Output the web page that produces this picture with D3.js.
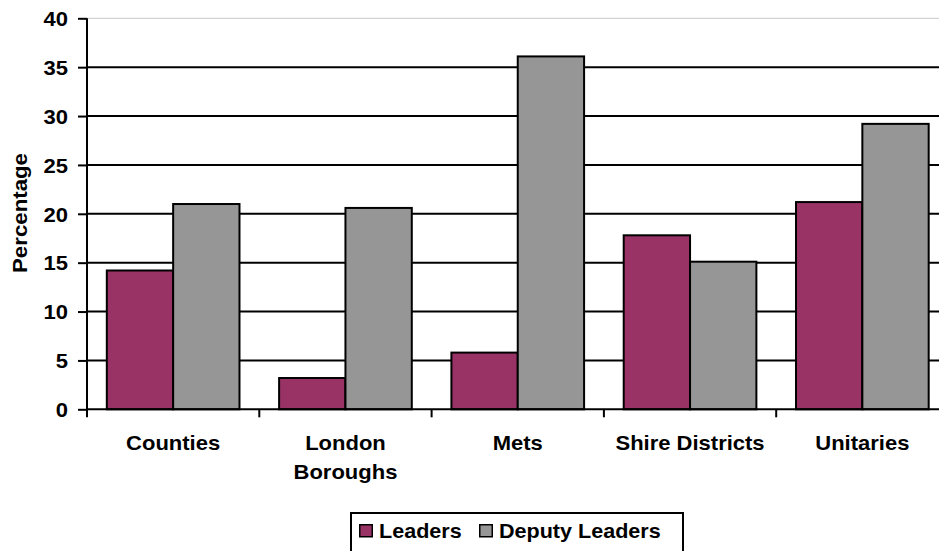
<!DOCTYPE html>
<html>
<head>
<meta charset="utf-8">
<script src="https://cdn.jsdelivr.net/npm/d3@7"></script>
<style>
  html, body { margin: 0; padding: 0; background: #fff; }
  svg { display: block; }
  text { font-family: "Liberation Sans", Arial, sans-serif; font-weight: bold; fill: #000; }
</style>
</head>
<body>
<script>
// Share of leaders and deputy leaders by type of authority (%)
const categories = ["Counties", "London Boroughs", "Mets", "Shire Districts", "Unitaries"];
const categoryLines = [["Counties"], ["London", "Boroughs"], ["Mets"], ["Shire Districts"], ["Unitaries"]];
const leaders = [14.2, 3.2, 5.8, 17.8, 21.2];
const deputyLeaders = [21.0, 20.6, 36.1, 15.1, 29.2];
const seriesNames = ["Leaders", "Deputy Leaders"];
const yTicks = [0, 5, 10, 15, 20, 25, 30, 35, 40];

const W = 939, H = 551;
const colors = ["#993366", "#969696"];
const sx = 1.1; // slight horizontal widening of the glyphs

const svg = d3.select("body").append("svg").attr("width", W).attr("height", H);

const x0 = d3.scaleBand().domain(categories).range([87, 948.5]).padding(0);
const bw = x0.bandwidth() * 0.385;
const y = d3.scaleLinear().domain([0, 40]).range([409.3, 18.3]);

// gridlines
svg.append("g").selectAll("line").data(yTicks.filter(d => d > 0)).join("line")
  .attr("x1", 87).attr("x2", 948.5)
  .attr("y1", d => y(d)).attr("y2", d => y(d))
  .attr("stroke", d => d === 40 ? "#c8c8c8" : "#000")
  .attr("stroke-width", d => d === 40 ? 1 : 2);

// bars
const rows = categories.map((c, i) => ({ c, vals: [leaders[i], deputyLeaders[i]] }));
const grp = svg.append("g").selectAll("g").data(rows).join("g")
  .attr("transform", d => `translate(${x0(d.c) + (x0.bandwidth() - 2 * bw) / 2},0)`);
grp.selectAll("rect").data(d => d.vals).join("rect")
  .attr("x", (d, j) => j * bw)
  .attr("y", d => y(d))
  .attr("width", bw)
  .attr("height", d => y(0) - y(d))
  .attr("fill", (d, j) => colors[j])
  .attr("stroke", "#000").attr("stroke-width", 2);

// y axis
const yAxis = d3.axisLeft(y).tickValues(yTicks).tickSize(9).tickPadding(10);
const ya = svg.append("g").attr("transform", "translate(87,0)").call(yAxis);
ya.select(".domain").remove();
ya.append("line").attr("x1", 0).attr("x2", 0).attr("y1", y(40)).attr("y2", y(0) + 8)
  .attr("stroke", "#000").attr("stroke-width", 2);
ya.selectAll(".tick line").attr("stroke", "#000").attr("stroke-width", 2);
ya.selectAll(".tick text").attr("font-size", 20).attr("font-family", null)
  .attr("dy", "0.36em")
  .attr("transform", `scale(${sx},1)`).attr("x", -19 / sx);

// x axis line and band ticks
svg.append("line").attr("x1", 87).attr("x2", 948.5).attr("y1", y(0)).attr("y2", y(0))
  .attr("stroke", "#000").attr("stroke-width", 2);
svg.append("g").selectAll("line").data(categories.slice(1)).join("line")
  .attr("x1", d => x0(d)).attr("x2", d => x0(d))
  .attr("y1", y(0)).attr("y2", y(0) + 8)
  .attr("stroke", "#000").attr("stroke-width", 2);

// category labels
const xl = svg.append("g").selectAll("text").data(categories).join("text")
  .attr("text-anchor", "middle").attr("font-size", 20)
  .attr("transform", d => `translate(${x0(d) + x0.bandwidth() / 2},450) scale(${sx},1)`);
xl.selectAll("tspan").data((d, i) => categoryLines[i]).join("tspan")
  .attr("x", 0).attr("y", (d, k) => k * 29).text(d => d);

// y axis title
svg.append("text").attr("text-anchor", "middle").attr("font-size", 20)
  .attr("transform", "translate(27,213) rotate(-90)")
  .attr("textLength", 120).attr("lengthAdjust", "spacingAndGlyphs")
  .text("Percentage");

// legend
const lg = svg.append("g");
lg.append("rect").attr("x", 351).attr("y", 513).attr("width", 332).attr("height", 60)
  .attr("fill", "#fff").attr("stroke", "#000").attr("stroke-width", 2);
const legendX = [359, 479];
const item = lg.selectAll("g.item").data(seriesNames).join("g").attr("class", "item")
  .attr("transform", (d, i) => `translate(${legendX[i]},524)`);
item.append("rect").attr("x", 0.75).attr("y", 0.75).attr("width", 12.5).attr("height", 12)
  .attr("fill", (d, i) => colors[i]).attr("stroke", "#000").attr("stroke-width", 1.5);
item.append("text").attr("font-size", 20)
  .attr("transform", `translate(20,13.5) scale(${sx * 0.98},1)`)
  .text(d => d);
</script>
</body>
</html>
